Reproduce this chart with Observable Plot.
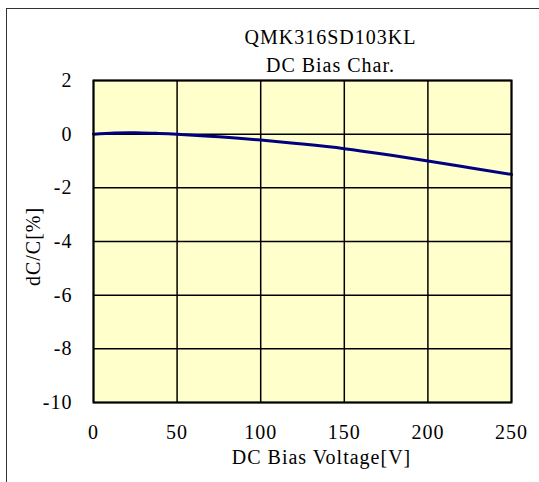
<!DOCTYPE html>
<html>
<head>
<meta charset="utf-8">
<script src="https://cdn.jsdelivr.net/npm/d3@7"></script>
<script src="https://cdn.jsdelivr.net/npm/@observablehq/plot@0.6"></script>
<style>
  html, body { margin: 0; padding: 0; background: white; overflow: hidden; }
  #wrap { position: relative; width: 539px; height: 482px; overflow: hidden; }
  #border { position: absolute; left: 6px; top: 8px; width: 700px; height: 700px;
            border-left: 1.5px solid #333; border-top: 1.5px solid #333; pointer-events: none; }
</style>
</head>
<body>
<div id="wrap"><div id="border"></div></div>
<script>
const titleLines = ["QMK316SD103KL", "DC Bias Char."];
const xLabel = "DC Bias Voltage[V]";
const yLabel = "dC/C[%]";
const xTicks = [0, 50, 100, 150, 200, 250];
const yTicks = [-10, -8, -6, -4, -2, 0, 2];
const voltage = [0, 12.5, 25, 37.5, 50, 75, 100, 125, 150, 175, 200, 225, 250];
const dcPct   = [0, 0.04, 0.05, 0.03, 0, -0.1, -0.22, -0.37, -0.54, -0.76, -1.0, -1.25, -1.5];

const data = voltage.map((v, i) => ({v, c: dcPct[i]}));
const fmt = d => String(d);

const chart = Plot.plot({
  width: 539,
  height: 482,
  marginLeft: 93,
  marginRight: 28,
  marginTop: 80,
  marginBottom: 80,
  style: {fontFamily: "'Liberation Serif', 'Times New Roman', serif", fontSize: "20px", letterSpacing: "1px", background: "transparent", color: "black"},
  x: {domain: [0, 250], ticks: xTicks},
  y: {domain: [-10, 2], ticks: yTicks},
  marks: [
    Plot.frame({fill: "#FFFFCC", fillOpacity: 1, stroke: null}),
    Plot.gridX(xTicks, {stroke: "black", strokeOpacity: 1, strokeWidth: 1.5}),
    Plot.gridY(yTicks, {stroke: "black", strokeOpacity: 1, strokeWidth: 1.5}),
    Plot.line(data, {x: "v", y: "c", stroke: "#000080", strokeWidth: 3, curve: "natural"}),
    Plot.frame({stroke: "black", strokeWidth: 2}),
    Plot.axisX(xTicks, {tickSize: 0, tickPadding: 22, label: null, fontSize: 20, tickFormat: fmt}),
    Plot.axisY(yTicks, {tickSize: 0, tickPadding: 21, label: null, fontSize: 20, tickFormat: fmt}),
    Plot.text([titleLines[0]], {frameAnchor: "top", dx: 28, dy: -37, lineAnchor: "bottom", fontSize: 20}),
    Plot.text([titleLines[1]], {frameAnchor: "top", dx: 28, dy: -9, lineAnchor: "bottom", fontSize: 20}),
    Plot.text([xLabel], {frameAnchor: "bottom", dx: 19, dy: 61, lineAnchor: "bottom", fontSize: 20}),
    Plot.text([yLabel], {frameAnchor: "left", textAnchor: "middle", rotate: -90, dx: -54, dy: 5, lineAnchor: "bottom", fontSize: 20})
  ]
});
document.getElementById("wrap").insertBefore(chart, document.getElementById("border"));
</script>
</body>
</html>
